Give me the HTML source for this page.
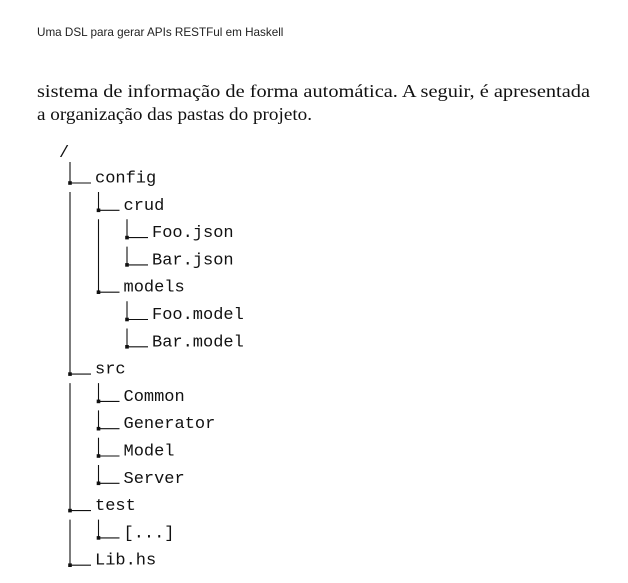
<!DOCTYPE html>
<html><head><meta charset="utf-8"><style>
body{margin:0;background:#fff;width:628px;height:578px;overflow:hidden}
</style></head><body>
<svg width="628" height="578" xmlns="http://www.w3.org/2000/svg">
<text x="37" y="36" font-family="Liberation Sans, sans-serif" font-size="11.7" fill="#222">Uma DSL para gerar APIs RESTFul em Haskell</text>
<text x="37" y="97" font-family="Liberation Serif, serif" font-size="18" fill="#111" textLength="553" lengthAdjust="spacingAndGlyphs">sistema de informação de forma automática. A seguir, é apresentada</text>
<text x="37" y="120" font-family="Liberation Serif, serif" font-size="18" fill="#111" textLength="275" lengthAdjust="spacingAndGlyphs">a organização das pastas do projeto.</text>
<g font-family="Liberation Mono, monospace" font-size="17" fill="#111">
<text x="59" y="157">/</text>
<text x="95" y="182.5">config</text>
<text x="123.5" y="209.8">crud</text>
<text x="152" y="237.1">Foo.json</text>
<text x="152" y="264.4">Bar.json</text>
<text x="123.5" y="291.7">models</text>
<text x="152" y="319">Foo.model</text>
<text x="152" y="346.3">Bar.model</text>
<text x="95" y="373.6">src</text>
<text x="123.5" y="400.9">Common</text>
<text x="123.5" y="428.2">Generator</text>
<text x="123.5" y="455.5">Model</text>
<text x="123.5" y="482.8">Server</text>
<text x="95" y="510.1">test</text>
<text x="123.5" y="537.4">[...]</text>
<text x="95" y="564.7">Lib.hs</text>
</g>
<path stroke="#111" stroke-width="1.1" fill="none" d="
M70 162V183H91 M70 192V374.1H91 M70 383.1V510.6H91 M70 519.6V565.2H91
M98.5 192V210.3H119.5 M98.5 219.3V292.2H119.5
M127 219.3V237.6H148 M127 246.6V264.9H148
M127 301.2V319.5H148 M127 328.5V346.8H148
M98.5 383.1V401.4H119.5 M98.5 410.4V428.7H119.5 M98.5 437.7V456H119.5 M98.5 465V483.3H119.5
M98.5 519.6V537.9H119.5"/>
<g fill="#111">
<rect x="68.2" y="181.2" width="3.6" height="3.6"/>
<rect x="68.2" y="372.3" width="3.6" height="3.6"/>
<rect x="68.2" y="508.8" width="3.6" height="3.6"/>
<rect x="68.2" y="563.4" width="3.6" height="3.6"/>
<rect x="96.7" y="208.5" width="3.6" height="3.6"/>
<rect x="96.7" y="290.4" width="3.6" height="3.6"/>
<rect x="125.2" y="235.8" width="3.6" height="3.6"/>
<rect x="125.2" y="263.1" width="3.6" height="3.6"/>
<rect x="125.2" y="317.7" width="3.6" height="3.6"/>
<rect x="125.2" y="345" width="3.6" height="3.6"/>
<rect x="96.7" y="399.6" width="3.6" height="3.6"/>
<rect x="96.7" y="426.9" width="3.6" height="3.6"/>
<rect x="96.7" y="454.2" width="3.6" height="3.6"/>
<rect x="96.7" y="481.5" width="3.6" height="3.6"/>
<rect x="96.7" y="536.1" width="3.6" height="3.6"/>
</g>
</svg>
</body></html>
